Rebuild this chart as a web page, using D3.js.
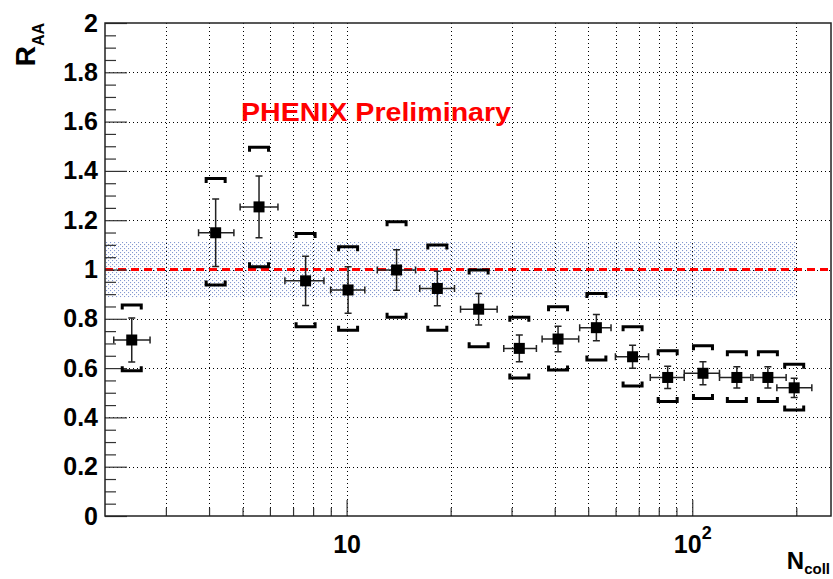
<!DOCTYPE html>
<html>
<head>
<meta charset="utf-8">
<script src="https://cdn.jsdelivr.net/npm/d3@7"></script>
<style>
  body { margin: 0; background: #fff; }
  svg { display: block; }
  text { font-family: "Liberation Sans", Arial, Helvetica, sans-serif; font-weight: bold; }
</style>
</head>
<body>
<svg id="chart" width="833" height="579"></svg>
<script>
// Nuclear modification factor vs number of binary collisions
const ncoll      = [2.39, 4.18, 5.58, 7.61, 10.1, 13.95, 18.3, 24.1, 31.6, 40.9, 52.8, 67.2, 84.9, 107.4, 134.6, 165.5, 197.2];
const ncollErrLo = [0.27, 0.45, 0.66, 0.98, 1.11, 1.68, 2.02, 2.74, 3.11, 4.12, 5.56, 7.27, 9.3, 12.6, 14.7, 15.7, 21.5];
const ncollErrHi = [0.31, 0.54, 0.75, 0.99, 1.19, 1.88, 2.22, 3.16, 3.81, 6.03, 5.41, 7.56, 9.9, 12.5, 13.2, 21.4, 24.6];
const raa        = [0.714, 1.149, 1.254, 0.954, 0.917, 0.998, 0.923, 0.839, 0.680, 0.718, 0.764, 0.646, 0.562, 0.579, 0.562, 0.562, 0.520];
const statErr    = [0.089, 0.137, 0.125, 0.100, 0.094, 0.082, 0.070, 0.064, 0.054, 0.052, 0.053, 0.047, 0.045, 0.047, 0.043, 0.043, 0.039];
const sysUp      = [0.142, 0.220, 0.242, 0.192, 0.175, 0.196, 0.176, 0.159, 0.126, 0.131, 0.139, 0.122, 0.108, 0.112, 0.104, 0.104, 0.096];
const sysDown    = [0.125, 0.212, 0.243, 0.186, 0.163, 0.192, 0.169, 0.152, 0.120, 0.126, 0.131, 0.119, 0.098, 0.102, 0.098, 0.098, 0.090];

// global normalisation uncertainty band around unity
const normBand = [0.887, 1.113];
const normBandRange = [2, 200];

const yMajorTicks = [0, 0.2, 0.4, 0.6, 0.8, 1, 1.2, 1.4, 1.6, 1.8, 2];
const yTickLabels = ["0", "0.2", "0.4", "0.6", "0.8", "1", "1.2", "1.4", "1.6", "1.8", "2"];
const yMinorTicks = d3.range(0, 41).map(i => i * 0.05).filter(v => Math.abs(v * 5 - Math.round(v * 5)) > 1e-6);
const xMajorTicks = [10, 100];
const xMinorTicks = [3, 4, 5, 6, 7, 8, 9, 20, 30, 40, 50, 60, 70, 80, 90, 200];
const xGridTicks = [3, 4, 5, 6, 7, 8, 9, 10, 20, 30, 40, 50, 60, 70, 80, 90, 100, 200];

const L = 105, R = 831, T = 23, B = 516;
const x = d3.scaleLog().domain([2, 252]).range([L, R]);
const y = d3.scaleLinear().domain([0, 2]).range([B, T]);

const svg = d3.select("#chart");
svg.append("rect").attr("width", 833).attr("height", 579).attr("fill", "#fff");

// dotted fill for the normalisation band
const defs = svg.append("defs");
const pat = defs.append("pattern").attr("id", "dotfill")
  .attr("width", 4).attr("height", 4).attr("patternUnits", "userSpaceOnUse");
pat.append("rect").attr("x", 0).attr("y", 0).attr("width", 1.1).attr("height", 1.1).attr("fill", "#8498d0");
pat.append("rect").attr("x", 2).attr("y", 2).attr("width", 1.1).attr("height", 1.1).attr("fill", "#8498d0");

svg.append("rect")
  .attr("x", x(normBandRange[0])).attr("y", y(normBand[1]))
  .attr("width", x(normBandRange[1]) - x(normBandRange[0]))
  .attr("height", y(normBand[0]) - y(normBand[1]))
  .attr("fill", "url(#dotfill)");

// grid
const gridStyle = g => {
  g.select(".domain").remove();
  g.selectAll("line").attr("stroke", "#000").attr("stroke-width", 1)
    .attr("stroke-dasharray", "1,3").attr("shape-rendering", "crispEdges");
};
svg.append("g").attr("transform", `translate(${L},0)`)
  .call(d3.axisLeft(y).tickValues(yMajorTicks.slice(1, -1)).tickSize(-(R - L)).tickFormat(""))
  .call(gridStyle);
svg.append("g").attr("transform", `translate(0,${B})`)
  .call(d3.axisBottom(x).tickValues(xGridTicks).tickSize(-(B - T)).tickFormat(""))
  .call(gridStyle);

// unity reference line
svg.append("line")
  .attr("x1", x(2)).attr("x2", x(250)).attr("y1", y(1)).attr("y2", y(1))
  .attr("stroke", "#ff0000").attr("stroke-width", 3).attr("stroke-dasharray", "8,5");

// axes
const tickStyle = g => {
  g.select(".domain").remove();
  g.selectAll(".tick line").attr("stroke", "#333").attr("stroke-width", 1.2);
};
svg.append("g").attr("transform", `translate(${L},0)`)
  .call(d3.axisLeft(y).tickValues(yMinorTicks).tickSize(-11).tickFormat(""))
  .call(tickStyle);
svg.append("g").attr("transform", `translate(${L},0)`)
  .call(d3.axisLeft(y).tickValues(yMajorTicks).tickSize(-22).tickPadding(7)
    .tickFormat((d, i) => yTickLabels[i]))
  .call(tickStyle)
  .call(g => g.selectAll("text").attr("font-size", 25).attr("fill", "#000")
    .attr("font-family", "'Liberation Sans', Arial, sans-serif").attr("font-weight", "bold"));

svg.append("g").attr("transform", `translate(0,${B})`)
  .call(d3.axisBottom(x).tickValues(xMinorTicks).tickSize(-8).tickFormat(""))
  .call(tickStyle);
svg.append("g").attr("transform", `translate(0,${B})`)
  .call(d3.axisBottom(x).tickValues(xMajorTicks).tickSize(-16).tickPadding(19).tickFormat(() => ""))
  .call(tickStyle)
  .call(g => g.selectAll("text").each(function(d) {
    const t = d3.select(this)
      .attr("font-size", 25).attr("fill", "#000")
      .attr("font-family", "'Liberation Sans', Arial, sans-serif").attr("font-weight", "bold");
    const exp = Math.round(Math.log10(d));
    t.text("10");
    if (exp !== 1) {
      t.append("tspan").attr("font-size", 18).attr("dy", -14).text(String(exp));
    }
  }));

// frame
svg.append("rect").attr("x", L).attr("y", T).attr("width", R - L).attr("height", B - T)
  .attr("fill", "none").attr("stroke", "#222").attr("stroke-width", 1.5);

// data points
const pts = ncoll.map((n, i) => ({
  n, v: raa[i], lo: n - ncollErrLo[i], hi: n + ncollErrHi[i],
  e: statErr[i], su: raa[i] + sysUp[i], sd: raa[i] - sysDown[i]
}));
const gp = svg.append("g");
const bw = 9.5, bt = 4.5;

// systematic brackets
gp.selectAll(".sysTop").data(pts).join("path")
  .attr("d", d => `M${x(d.n) - bw},${y(d.su) + bt}V${y(d.su)}H${x(d.n) + bw}V${y(d.su) + bt}`)
  .attr("fill", "none").attr("stroke", "#000").attr("stroke-width", 3);
gp.selectAll(".sysBot").data(pts).join("path")
  .attr("d", d => `M${x(d.n) - bw},${y(d.sd) - bt}V${y(d.sd)}H${x(d.n) + bw}V${y(d.sd) - bt}`)
  .attr("fill", "none").attr("stroke", "#000").attr("stroke-width", 3);

// horizontal error bars with end caps
const cap = 3.5;
gp.selectAll(".xerr").data(pts).join("path")
  .attr("d", d => `M${x(d.lo)},${y(d.v)}H${x(d.hi)}` +
    `M${x(d.lo)},${y(d.v) - cap}V${y(d.v) + cap}M${x(d.hi)},${y(d.v) - cap}V${y(d.v) + cap}`)
  .attr("fill", "none").attr("stroke", "#222").attr("stroke-width", 1.5);
// vertical statistical error bars with end caps
gp.selectAll(".yerr").data(pts).join("path")
  .attr("d", d => `M${x(d.n)},${y(d.v - d.e)}V${y(d.v + d.e)}` +
    `M${x(d.n) - cap},${y(d.v - d.e)}H${x(d.n) + cap}M${x(d.n) - cap},${y(d.v + d.e)}H${x(d.n) + cap}`)
  .attr("fill", "none").attr("stroke", "#222").attr("stroke-width", 1.5);

// markers
const ms = 11;
gp.selectAll(".mk").data(pts).join("rect")
  .attr("x", d => x(d.n) - ms / 2).attr("y", d => y(d.v) - ms / 2)
  .attr("width", ms).attr("height", ms).attr("fill", "#000");

// axis titles
const yt = svg.append("text")
  .attr("transform", `translate(35,${T}) rotate(-90)`)
  .attr("text-anchor", "end").attr("fill", "#000");
yt.append("tspan").attr("font-size", 28).text("R");
yt.append("tspan").attr("font-size", 16).attr("dy", 9).text("AA");

const xt = svg.append("text")
  .attr("x", 830).attr("y", 569).attr("text-anchor", "end").attr("fill", "#000");
xt.append("tspan").attr("font-size", 24).text("N");
xt.append("tspan").attr("font-size", 15).attr("dy", 5).text("coll");

// label
svg.append("text")
  .attr("x", 241).attr("y", 121)
  .attr("font-size", 25).attr("fill", "#ff0000")
  .attr("textLength", 270).attr("lengthAdjust", "spacingAndGlyphs")
  .text("PHENIX Preliminary");
</script>
</body>
</html>
